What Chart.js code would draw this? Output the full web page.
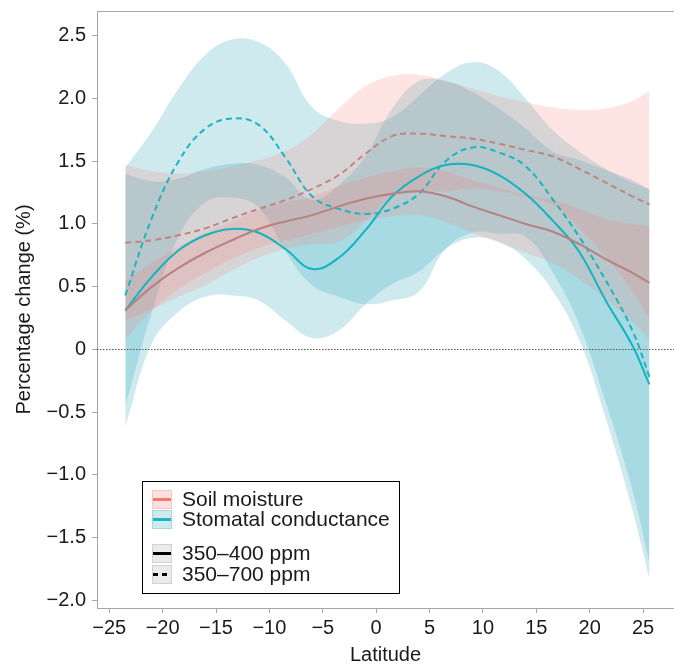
<!DOCTYPE html>
<html>
<head>
<meta charset="utf-8">
<script src="https://cdn.jsdelivr.net/npm/chart.js@4.4.1/dist/chart.umd.min.js"></script>
<style>
  html, body { margin: 0; padding: 0; background: #fff; }
  #wrap { width: 674px; height: 668px; }
</style>
</head>
<body>
<div id="wrap"><canvas id="chart" width="674" height="668"></canvas></div>
<script>
// Data
const latitude = [-23.5, -21, -18.5, -16, -13.5, -11, -8.5, -6, -3.5, -1, 1.5, 4, 6.5, 9, 11.5, 14, 16.5, 19, 21.5, 24, 25.6];

// Soil moisture
const soil400 = [0.31, 0.50, 0.65, 0.77, 0.87, 0.96, 1.02, 1.07, 1.14, 1.20, 1.24, 1.26, 1.22, 1.14, 1.07, 1.00, 0.94, 0.84, 0.72, 0.61, 0.53];
const soil400Lo = [0.08, 0.31, 0.48, 0.61, 0.72, 0.81, 0.87, 0.92, 0.98, 1.03, 1.06, 1.07, 1.02, 0.93, 0.85, 0.77, 0.69, 0.56, 0.40, 0.22, 0.08];
const soil400Hi = [0.55, 0.69, 0.82, 0.93, 1.02, 1.11, 1.17, 1.22, 1.30, 1.37, 1.42, 1.45, 1.42, 1.35, 1.29, 1.23, 1.19, 1.12, 1.04, 1.00, 0.98];
const soil700 = [0.85, 0.87, 0.91, 0.965, 1.045, 1.12, 1.19, 1.28, 1.39, 1.56, 1.70, 1.72, 1.70, 1.68, 1.64, 1.59, 1.54, 1.44, 1.33, 1.22, 1.155];
const soil700Lo = [0.23, 0.32, 0.42, 0.51, 0.63, 0.73, 0.80, 0.84, 0.86, 1.02, 1.22, 1.25, 1.26, 1.28, 1.26, 1.21, 1.15, 0.97, 0.74, 0.46, 0.25];
const soil700Hi = [1.47, 1.42, 1.40, 1.42, 1.46, 1.51, 1.58, 1.72, 1.92, 2.10, 2.18, 2.19, 2.14, 2.08, 2.02, 1.97, 1.93, 1.91, 1.92, 1.98, 2.06];

// Stomatal conductance
const stoma400 = [0.31, 0.58, 0.79, 0.91, 0.96, 0.93, 0.80, 0.64, 0.73, 0.95, 1.22, 1.38, 1.47, 1.47, 1.39, 1.24, 1.03, 0.78, 0.39, 0.03, -0.28];
const stoma400Lo = [-0.62, 0.05, 0.30, 0.42, 0.43, 0.39, 0.23, 0.09, 0.15, 0.36, 0.52, 0.62, 0.80, 0.89, 0.86, 0.72, 0.47, 0.08, -0.55, -1.28, -1.83];
const stoma400Hi = [1.40, 1.34, 1.36, 1.44, 1.48, 1.47, 1.37, 1.19, 1.31, 1.54, 1.92, 2.14, 2.14, 2.05, 1.92, 1.76, 1.58, 1.51, 1.43, 1.35, 1.27];
const stoma700 = [0.43, 1.05, 1.50, 1.76, 1.84, 1.79, 1.53, 1.22, 1.12, 1.08, 1.12, 1.24, 1.50, 1.61, 1.57, 1.46, 1.20, 0.90, 0.55, 0.15, -0.22];
const stoma700Lo = [-0.45, 0.30, 0.90, 1.17, 1.21, 1.13, 0.78, 0.51, 0.42, 0.36, 0.39, 0.46, 0.80, 0.93, 0.92, 0.90, 0.62, 0.20, -0.42, -1.12, -1.70];
const stoma700Hi = [1.45, 1.74, 2.08, 2.35, 2.47, 2.45, 2.28, 1.93, 1.82, 1.80, 1.85, 2.02, 2.20, 2.29, 2.22, 2.00, 1.75, 1.58, 1.44, 1.33, 1.28];

const xTicks = [-25, -20, -15, -10, -5, 0, 5, 10, 15, 20, 25];
const yTicks = [-2.0, -1.5, -1.0, -0.5, 0, 0.5, 1.0, 1.5, 2.0, 2.5];

const pinkFill = 'rgba(248, 118, 109, 0.2)';
const tealFill = 'rgba(10, 150, 175, 0.2)';
const axisGrey = '#a6a6a6';
const font = 'Liberation Sans, Arial, Helvetica, sans-serif';

const pts = ys => latitude.map((x, i) => ({ x, y: ys[i] }));

const edge = ys => ({
  data: pts(ys),
  borderWidth: 0,
  borderColor: 'transparent',
  pointRadius: 0,
  fill: false,
  tension: 0.4,
  order: 2,
});
const band = (ys, color) => ({
  ...edge(ys),
  backgroundColor: color,
  fill: '-1',
});
const line = (ys, color, dashed) => ({
  data: pts(ys),
  borderColor: color,
  borderWidth: 2,
  borderDash: dashed ? [6, 4] : [],
  pointRadius: 0,
  fill: false,
  tension: 0.4,
  order: 1,
});

const datasets = [
  edge(soil700Lo), band(soil700Hi, pinkFill),
  edge(soil400Lo), band(soil400Hi, pinkFill),
  edge(stoma700Lo), band(stoma700Hi, tealFill),
  edge(stoma400Lo), band(stoma400Hi, tealFill),
  line(soil700, '#c3847e', true),
  line(soil400, '#b5837f', false),
  line(stoma700, '#19b6bf', true),
  line(stoma400, '#12b4bd', false),
];

// Zero reference line and top frame
const frame = {
  id: 'frame',
  afterDatasetsDraw(chart) {
    const { ctx, chartArea: a, scales } = chart;
    const y0 = Math.round(scales.y.getPixelForValue(0)) + 0.5;
    ctx.save();
    ctx.strokeStyle = '#555';
    ctx.lineWidth = 1;
    ctx.setLineDash([1.5, 1.5]);
    ctx.beginPath();
    ctx.moveTo(a.left, y0);
    ctx.lineTo(a.right, y0);
    ctx.stroke();
    ctx.setLineDash([]);
    ctx.strokeStyle = axisGrey;
    ctx.beginPath();
    ctx.moveTo(a.left, a.top + 0.5);
    ctx.lineTo(a.right, a.top + 0.5);
    ctx.stroke();
    ctx.restore();
  },
};

// Legend box in the lower left
const legendBox = {
  id: 'legendBox',
  afterDraw(chart) {
    const ctx = chart.ctx;
    ctx.save();
    ctx.fillStyle = '#fff';
    ctx.fillRect(142.5, 481.5, 257, 112);
    ctx.strokeStyle = '#000';
    ctx.lineWidth = 1;
    ctx.strokeRect(142.5, 481.5, 257, 112);

    const rows = [
      { y: 490, fill: '#fde0df', edge: '#f2c9c7', color: '#f8766d', dash: [], text: 'Soil moisture' },
      { y: 510, fill: '#cdeaee', edge: '#a9d7dd', color: '#19b6bf', dash: [], text: 'Stomatal conductance' },
      { y: 544, fill: '#ebebeb', edge: '#d2d2d2', color: '#000', dash: [], text: '350\u2013400 ppm' },
      { y: 565, fill: '#ebebeb', edge: '#d2d2d2', color: '#000', dash: [5, 4], text: '350\u2013700 ppm' },
    ];
    ctx.font = '21px ' + font;
    ctx.textBaseline = 'middle';
    rows.forEach(r => {
      ctx.fillStyle = r.fill;
      ctx.fillRect(152, r.y, 20, 19);
      ctx.strokeStyle = r.edge;
      ctx.strokeRect(152.5, r.y + 0.5, 19, 18);
      ctx.strokeStyle = r.color;
      ctx.lineWidth = 3;
      ctx.setLineDash(r.dash);
      ctx.beginPath();
      ctx.moveTo(153, r.y + 9.5);
      ctx.lineTo(171, r.y + 9.5);
      ctx.stroke();
      ctx.setLineDash([]);
      ctx.lineWidth = 1;
      ctx.fillStyle = '#1a1a1a';
      ctx.fillText(r.text, 182, r.y + 10);
    });
    ctx.restore();
  },
};

new Chart(document.getElementById('chart'), {
  type: 'line',
  data: { datasets },
  plugins: [frame, legendBox],
  options: {
    responsive: false,
    animation: false,
    devicePixelRatio: 1,
    layout: { padding: { top: 11, right: 0, left: 0, bottom: 0 } },
    plugins: {
      legend: { display: false },
      tooltip: { enabled: false },
    },
    scales: {
      x: {
        type: 'linear',
        min: -26.15,
        max: 27.9,
        afterBuildTicks: s => { s.ticks = xTicks.map(value => ({ value })); },
        afterFit: s => { s.height = 60; s.paddingLeft = 0; s.paddingRight = 0; },
        ticks: {
          autoSkip: false,
          maxRotation: 0,
          padding: 3,
          color: '#1a1a1a',
          font: { family: font, size: 20 },
          callback: v => String(v).replace('-', '\u2212'),
        },
        grid: { drawOnChartArea: false, drawTicks: true, tickLength: 5, tickColor: axisGrey },
        border: { display: true, color: axisGrey },
        title: {
          display: true,
          text: 'Latitude',
          color: '#1a1a1a',
          font: { family: font, size: 20 },
          padding: { top: 0, bottom: 1 },
        },
      },
      y: {
        type: 'linear',
        min: -2.063,
        max: 2.698,
        afterBuildTicks: s => { s.ticks = yTicks.map(value => ({ value })); },
        afterFit: s => { s.width = 97; s.paddingTop = 0; s.paddingBottom = 0; },
        ticks: {
          autoSkip: false,
          padding: 6,
          color: '#1a1a1a',
          font: { family: font, size: 20 },
          callback: v => (v === 0 ? '0' : v.toFixed(1).replace('-', '\u2212')),
        },
        grid: { drawOnChartArea: false, drawTicks: true, tickLength: 5, tickColor: axisGrey },
        border: { display: true, color: axisGrey },
        title: {
          display: true,
          text: 'Percentage change (%)',
          color: '#1a1a1a',
          font: { family: font, size: 20 },
          padding: { top: 12, bottom: 0 },
        },
      },
    },
  },
});
</script>
</body>
</html>
